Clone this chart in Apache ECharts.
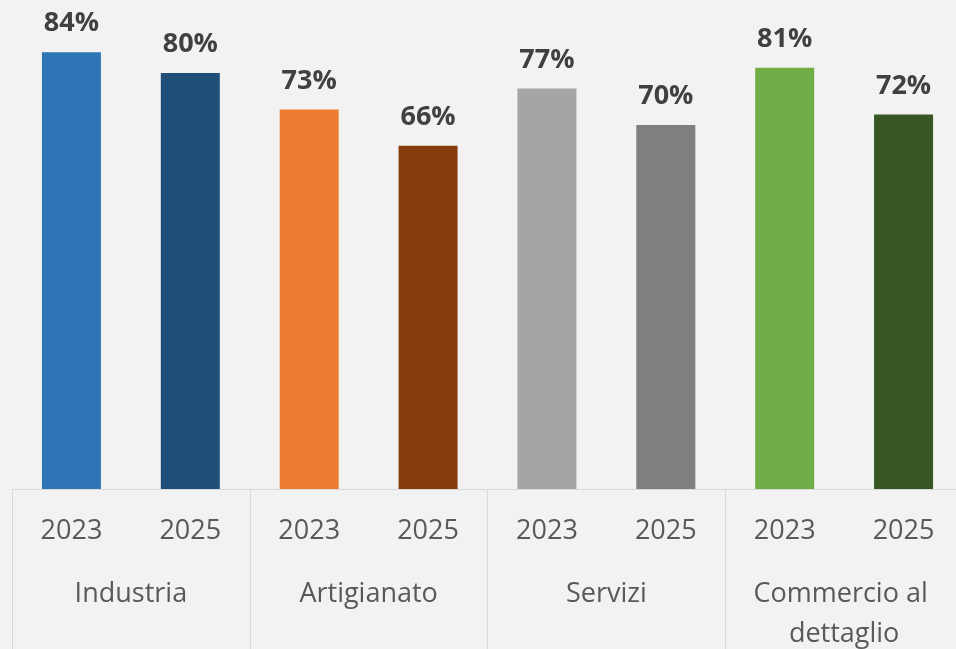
<!DOCTYPE html>
<html>
<head>
<meta charset="utf-8">
<script src="https://cdn.jsdelivr.net/npm/echarts@6/dist/echarts.min.js"></script>
<style>
html,body{margin:0;padding:0;background:#f2f2f2;}
#chart{width:956px;height:649px;}
</style>
</head>
<body>
<div id="chart"></div>
<script>
const years = ['2023','2025','2023','2025','2023','2025','2023','2025'];
const groups = ['Industria','Artigianato','Servizi','Commercio al dettaglio'];
const values = [84, 80, 73, 66, 77, 70, 81, 72];
const barColors = ['#2e75b6','#1f4e79','#ed7d31','#843c0c','#a5a5a5','#7f7f7f','#70ad47','#375623'];

const chart = echarts.init(document.getElementById('chart'));
chart.setOption({
  backgroundColor: '#f2f2f2',
  animation: false,
  grid: {left: 12, width: 951, top: 21, height: 468, containLabel: false, outerBoundsMode: 'none'},
  xAxis: [
    {
      type: 'category',
      data: years,
      position: 'bottom',
      axisLine: {show: true, lineStyle: {color: '#d9d9d9', width: 1}},
      axisTick: {show: false},
      axisLabel: {
        margin: 29,
        fontFamily: 'Open Sans',
        fontSize: 27,
        color: '#595959',
        interval: 0
      }
    },
    {
      type: 'category',
      data: groups,
      position: 'bottom',
      axisLine: {show: false},
      axisTick: {show: true, length: 170, lineStyle: {color: '#d9d9d9', width: 1}},
      axisLabel: {
        margin: 85,
        fontFamily: 'Open Sans',
        fontSize: 27,
        lineHeight: 40,
        color: '#595959',
        interval: 0,
        width: 210,
        overflow: 'break'
      }
    }
  ],
  yAxis: {
    type: 'value',
    min: 0,
    max: 90,
    show: false,
    splitLine: {show: false}
  },
  series: [{
    type: 'bar',
    xAxisIndex: 0,
    data: values,
    barWidth: 59,
    itemStyle: {
      color: function (p) { return barColors[p.dataIndex]; }
    },
    label: {
      show: true,
      position: 'top',
      distance: 15,
      formatter: '{c}%',
      fontFamily: 'Open Sans',
      fontWeight: 'bold',
      fontSize: 27,
      color: '#404040'
    }
  }]
});
</script>
</body>
</html>
